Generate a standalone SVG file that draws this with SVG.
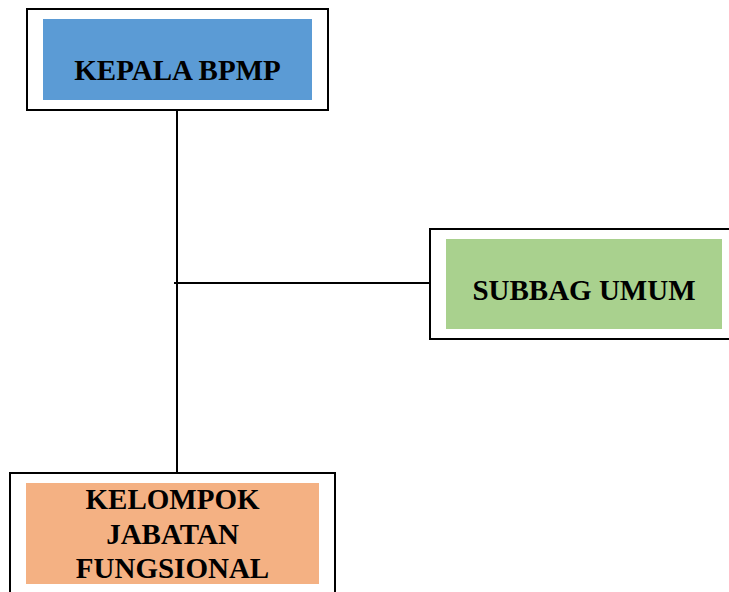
<svg xmlns="http://www.w3.org/2000/svg" width="729" height="592" viewBox="0 0 729 592">
<style>
.frame{fill:#fff;stroke:#000;stroke-width:2}
.lbl{font-family:"Liberation Serif","Times New Roman",serif;font-weight:bold;font-size:29px;fill:#000;text-anchor:middle}
.conn{stroke:#000;stroke-width:2;fill:none}
</style>
<rect width="729" height="592" fill="#fff"/>
<g id="connectors">
<line class="conn" x1="177" y1="110" x2="177" y2="472"/>
<line class="conn" x1="174" y1="283" x2="429" y2="283"/>
</g>
<g id="kepala">
<rect class="frame" x="27" y="9" width="301" height="101"/>
<rect x="43" y="19" width="269" height="81" fill="#5B9BD5"/>
<text class="lbl" x="177.5" y="80">KEPALA BPMP</text>
</g>
<g id="subbag">
<rect class="frame" x="430" y="229" width="310" height="110"/>
<rect x="446" y="239" width="276" height="90" fill="#A9D18E"/>
<text class="lbl" x="584" y="300">SUBBAG UMUM</text>
</g>
<g id="kelompok">
<rect class="frame" x="10" y="473" width="325" height="130"/>
<rect x="26" y="483" width="293" height="101" fill="#F4B183"/>
<text class="lbl" x="172.5" y="509">KELOMPOK</text>
<text class="lbl" x="172.5" y="544">JABATAN</text>
<text class="lbl" x="172.5" y="578">FUNGSIONAL</text>
</g>
</svg>
